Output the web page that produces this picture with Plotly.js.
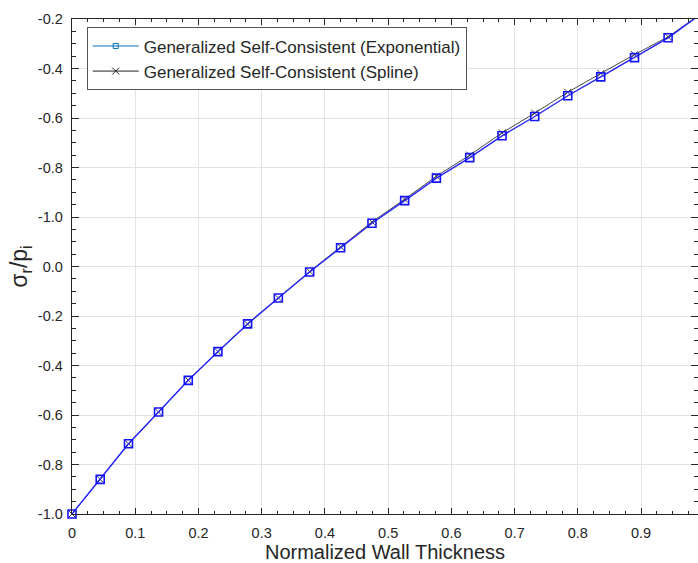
<!DOCTYPE html>
<html>
<head>
<meta charset="utf-8">
<script src="https://cdn.plot.ly/plotly-3.0.1.min.js"></script>
<style>html,body{margin:0;padding:0;background:#fff;}#chart{width:698px;height:563px;}</style>
</head>
<body>
<div id="chart"></div>
<script>
// Data (internal y scale: -1.0 at bottom to 1.0 at top)
const thickness = [0, 0.0446, 0.0894, 0.1369, 0.1839, 0.2307, 0.2777, 0.3263, 0.3758, 0.4248,
  0.4744, 0.5261, 0.5763, 0.6290, 0.6801, 0.7318, 0.7840, 0.8362, 0.8896, 0.9427, 1.0];
const exponentialY = [-1.0, -0.860, -0.716, -0.588, -0.460, -0.344, -0.232, -0.127, -0.022, 0.076,
  0.175, 0.266, 0.357, 0.440, 0.528, 0.606, 0.690, 0.766, 0.844, 0.924, 1.03];
const splineY = [-1.0, -0.860, -0.716, -0.588, -0.460, -0.344, -0.232, -0.127, -0.020, 0.079,
  0.180, 0.272, 0.365, 0.450, 0.540, 0.620, 0.704, 0.780, 0.856, 0.928, 1.03];
const yTickVals = [-1.0, -0.8, -0.6, -0.4, -0.2, 0.0, 0.2, 0.4, 0.6, 0.8, 1.0];
const yTickText = ["-1.0", "-0.8", "-0.6", "-0.4", "-0.2", "0.0", "-1.0", "-0.8", "-0.6", "-0.4", "-0.2"];
const xTickVals = [0, 0.1, 0.2, 0.3, 0.4, 0.5, 0.6, 0.7, 0.8, 0.9];
const xTickText = ["0", "0.1", "0.2", "0.3", "0.4", "0.5", "0.6", "0.7", "0.8", "0.9"];
const seriesNames = ["Generalized Self-Consistent (Exponential)", "Generalized Self-Consistent (Spline)"];

const textColor = '#262626';
const traces = [
  {x: thickness, y: splineY, type: 'scatter', mode: 'lines+markers', showlegend: false,
   line: {color: 'rgba(40,40,40,0.85)', width: 1},
   marker: {symbol: 'x-thin-open', size: 7, line: {color: '#222', width: 1}},
   cliponaxis: false},
  {x: thickness, y: exponentialY, type: 'scatter', mode: 'lines+markers', showlegend: false,
   line: {color: 'rgb(35,35,250)', width: 1.4},
   marker: {symbol: 'square-open', size: 8, color: 'rgb(20,20,250)', line: {color: 'rgb(20,20,250)', width: 1.6}},
   cliponaxis: false},
  {x: [null], y: [null], type: 'scatter', mode: 'lines+markers', name: seriesNames[0],
   line: {color: 'rgb(0,114,189)', width: 1},
   marker: {symbol: 'square-open', size: 5, color: 'rgb(0,114,189)', line: {width: 1}}},
  {x: [null], y: [null], type: 'scatter', mode: 'lines+markers', name: seriesNames[1],
   line: {color: '#222', width: 1},
   marker: {symbol: 'x-thin-open', size: 7, line: {color: '#222', width: 1}}}
];

const layout = {
  width: 698, height: 563,
  margin: {l: 72, r: 0, t: 19, b: 49, pad: 0},
  paper_bgcolor: '#fff', plot_bgcolor: '#fff',
  font: {family: 'Liberation Sans, Arial, sans-serif', color: textColor, size: 14.5},
  showlegend: true,
  legend: {x: 0.0235, y: 0.983, xanchor: 'left', yanchor: 'top',
    bgcolor: '#fff', bordercolor: '#555', borderwidth: 1,
    font: {size: 17, color: textColor}, itemwidth: 46, tracegroupgap: 0},
  xaxis: {
    range: [0, 0.99], tickmode: 'array', tickvals: xTickVals, ticktext: xTickText,
    ticks: 'inside', ticklen: 6, tickwidth: 1, tickcolor: '#262626',
    showline: true, linecolor: '#262626', linewidth: 1.3, mirror: 'ticks',
    showgrid: true, gridcolor: '#e3e3e3', gridwidth: 1, zeroline: false,
    minor: {dtick: 0.025, tick0: 0, ticks: 'inside', ticklen: 3, tickcolor: '#262626', showgrid: false},
    ticklabelstandoff: 5, tickfont: {size: 14.5, color: textColor},
    automargin: false,
    title: {text: 'Normalized Wall Thickness', font: {size: 20, color: textColor}, standoff: 5}
  },
  yaxis: {
    range: [-1.0, 1.0], tickmode: 'array', tickvals: yTickVals, ticktext: yTickText,
    ticks: 'inside', ticklen: 7, tickwidth: 1, tickcolor: '#262626',
    showline: true, linecolor: '#262626', linewidth: 1.3, mirror: 'ticks',
    showgrid: true, gridcolor: '#e3e3e3', gridwidth: 1, zeroline: false,
    minor: {dtick: 0.05, tick0: 0, ticks: 'inside', ticklen: 4, tickcolor: '#262626', showgrid: false},
    ticklabelstandoff: 5, tickfont: {size: 14.5, color: textColor},
    automargin: false,
    title: {text: 'σ<sub>r</sub>/p<sub>i</sub>', font: {size: 23, color: textColor}, standoff: 3}
  }
};

Plotly.newPlot('chart', traces, layout, {displayModeBar: false, staticPlot: true});
</script>
</body>
</html>
